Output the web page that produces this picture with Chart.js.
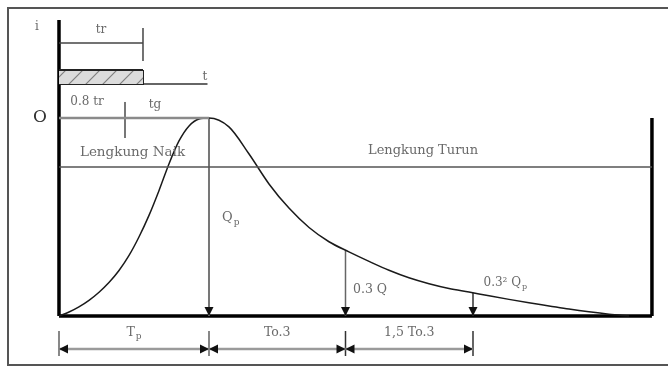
<!DOCTYPE html>
<html>
<head>
<meta charset="utf-8">
<script src="https://cdn.jsdelivr.net/npm/chart.js@4.4.1/dist/chart.umd.min.js"></script>
<style>
  html, body { margin: 0; padding: 0; background: #fff; }
  #wrap { width: 668px; height: 367px; position: relative; }
</style>
</head>
<body>
<div id="wrap"><canvas id="chart"></canvas></div>
<script>
// Unit hydrograph, t in units of Tp, Q in units of Qp
const hydroT = [0, 0.067, 0.133, 0.2, 0.267, 0.333, 0.4, 0.467, 0.533, 0.6, 0.667, 0.733, 0.8, 0.867, 0.933, 1.0,
  1.133, 1.267, 1.4, 1.533, 1.667, 1.8, 1.933, 2.067, 2.2, 2.333, 2.467, 2.6, 2.733, 2.867,
  3.0, 3.133, 3.267, 3.4, 3.533, 3.667, 3.8];
const hydroQ = [0, 0.020, 0.046, 0.079, 0.120, 0.169, 0.230, 0.306, 0.399, 0.508, 0.634, 0.768, 0.884, 0.960, 0.995, 1.0,
  0.955, 0.818, 0.667, 0.545, 0.447, 0.375, 0.324, 0.276, 0.231, 0.193, 0.163, 0.139, 0.121, 0.102,
  0.084, 0.067, 0.051, 0.035, 0.021, 0.009, 0];

// 0, Tp, Tp + To.3, Tp + To.3 + 1.5 To.3
const markT = [0, 1.0, 1.91, 2.76];
const markQ = [1.0, 0.332, 0.118];
const spanLabels = ["T", "To.3", "1,5 To.3"];

// rainfall block and guide lines
const trEnd = 0.56;
const rainTop = 1.242;
const rainBase = 1.172;
const rainAxisEnd = 0.99;
const trLineQ = 1.379;
const lagTickT = 0.44;
const riseFallQ = 0.753;
const tEnd = 3.953;
const qTop = 1.495;
const spanQ = -0.167;

// ── helpers ─────────────────────────────────────────

function pts(ts, qs) {
  return ts.map((t, i) => ({ x: t, y: qs[i] }));
}

function seg(t0, q0, t1, q1, color, width, arrows) {
  return {
    data: [{ x: t0, y: q0 }, { x: t1, y: q1 }],
    borderColor: color,
    borderWidth: width,
    pointRadius: 0,
    fill: false,
    arrows: arrows || [],
  };
}

function hatch() {
  const s = 17;
  const c = document.createElement("canvas");
  c.width = s; c.height = s;
  const g = c.getContext("2d");
  g.fillStyle = "#dcdcdc";
  g.fillRect(0, 0, s, s);
  g.strokeStyle = "#808080";
  g.lineWidth = 1.2;
  g.beginPath();
  g.moveTo(0, s); g.lineTo(s, 0);
  g.moveTo(-2, 2); g.lineTo(2, -2);
  g.moveTo(s - 2, s + 2); g.lineTo(s + 2, s - 2);
  g.stroke();
  return g.createPattern(c, "repeat");
}

const labels = [
  { text: "i", t: -0.147, q: 1.46, size: 12 },
  { text: "tr", t: trEnd / 2, q: 1.444, size: 12 },
  { text: "t", t: 0.973, q: 1.207, size: 12 },
  { text: "0.8 tr", t: 0.187, q: 1.081, size: 12 },
  { text: "tg", t: 0.64, q: 1.066, size: 12 },
  { text: "O", t: -0.127, q: 1.0, size: 17, color: "#333" },
  { text: "Lengkung Naik", t: 0.49, q: 0.828, size: 13.5 },
  { text: "Lengkung Turun", t: 2.427, q: 0.833, size: 13 },
  { text: "Q", sub: "p", t: markT[1] + 0.087, q: 0.495, size: 13, align: "left" },
  { text: "0.3 Q", t: markT[2] + 0.05, q: 0.131, size: 12.5, align: "left" },
  { text: "0.3² Q", sub: "p", t: markT[3] + 0.07, q: 0.167, size: 12, align: "left" },
];
spanLabels.forEach((s, i) => {
  labels.push({
    text: s,
    sub: i === 0 ? "p" : null,
    t: (markT[i] + markT[i + 1]) / 2,
    q: -0.084,
    size: 12.5,
  });
});

// ── datasets ─────────────────────────────────────────

const datasets = [
  // rainfall bar (hatched)
  {
    data: [{ x: 0, y: rainTop }, { x: trEnd, y: rainTop }],
    borderColor: "#222",
    borderWidth: 2,
    pointRadius: 0,
    fill: { value: rainBase },
    backgroundColor: hatch(),
  },
  {
    data: [{ x: 0, y: rainBase }, { x: trEnd, y: rainBase }, { x: trEnd, y: rainTop }],
    borderColor: "#222", borderWidth: 2, pointRadius: 0, fill: false,
  },
  seg(trEnd, rainBase, rainAxisEnd, rainBase, "#666", 2),
  seg(0, trLineQ, trEnd, trLineQ, "#444", 1.5),
  seg(trEnd, 1.288, trEnd, 1.455, "#444", 1.5),
  // peak level and lag tick
  seg(0, 1.0, markT[1], 1.0, "#8a8a8a", 2.5),
  seg(lagTickT, 0.899, lagTickT, 1.081, "#777", 2),
  // rising / falling limb divider
  seg(0, riseFallQ, tEnd, riseFallQ, "#555", 1.5),
  // hydrograph
  {
    data: pts(hydroT, hydroQ),
    borderColor: "#1a1a1a",
    borderWidth: 1.5,
    pointRadius: 0,
    fill: false,
    cubicInterpolationMode: "monotone",
  },
  // ordinate arrows
  seg(markT[1], markQ[0], markT[1], 0, "#777", 2, ["end"]),
  seg(markT[2], markQ[1], markT[2], 0, "#666", 1.5, ["end"]),
  seg(markT[3], markQ[2], markT[3], 0, "#333", 1.5, ["end"]),
  // axes
  seg(0, 0, 0, qTop, "#000", 3.5),
  seg(0, 0, tEnd, 0, "#000", 3.5),
  seg(tEnd, 0, tEnd, 1.0, "#000", 3.5),
];

// dimension lines
for (let i = 0; i < 3; i++) {
  datasets.push(seg(markT[i], spanQ, markT[i + 1], spanQ, "#9a9a9a", 2.5, ["start", "end"]));
}
markT.forEach((t, i) => {
  datasets.push(seg(t, -0.076, t, -0.202, i < 2 ? "#888" : "#333", i < 2 ? 2 : 1.5));
});

// ── plugins ─────────────────────────────────────────

const framePlugin = {
  id: "frame",
  beforeDraw(chart) {
    const ctx = chart.ctx;
    ctx.save();
    ctx.fillStyle = "#fff";
    ctx.fillRect(0, 0, chart.width, chart.height);
    ctx.strokeStyle = "#555";
    ctx.lineWidth = 2;
    ctx.strokeRect(8, 8, 700, 357);
    ctx.restore();
  },
};

const arrowPlugin = {
  id: "arrows",
  afterDatasetsDraw(chart) {
    const ctx = chart.ctx;
    ctx.save();
    ctx.fillStyle = "#111";
    chart.data.datasets.forEach((ds, i) => {
      if (!ds.arrows || !ds.arrows.length) return;
      const p = chart.getDatasetMeta(i).data;
      ds.arrows.forEach((end) => {
        const tip = end === "end" ? p[p.length - 1] : p[0];
        const from = end === "end" ? p[p.length - 2] : p[1];
        let dx = tip.x - from.x, dy = tip.y - from.y;
        const len = Math.hypot(dx, dy) || 1;
        dx /= len; dy /= len;
        const L = 9, W = 4.5;
        const bx = tip.x - dx * L, by = tip.y - dy * L;
        ctx.beginPath();
        ctx.moveTo(tip.x, tip.y);
        ctx.lineTo(bx - dy * W, by + dx * W);
        ctx.lineTo(bx + dy * W, by - dx * W);
        ctx.closePath();
        ctx.fill();
      });
    });
    ctx.restore();
  },
};

const labelPlugin = {
  id: "labels",
  afterDraw(chart) {
    const ctx = chart.ctx;
    const xs = chart.scales.x, ys = chart.scales.y;
    ctx.save();
    ctx.textBaseline = "middle";
    labels.forEach((l) => {
      const x = xs.getPixelForValue(l.t);
      const y = ys.getPixelForValue(l.q);
      ctx.font = `${l.size}px "DejaVu Serif"`;
      const w = ctx.measureText(l.text).width;
      const subSize = Math.round(l.size * 0.7);
      let sw = 0;
      if (l.sub) {
        ctx.font = `${subSize}px "DejaVu Serif"`;
        sw = ctx.measureText(l.sub).width + 1;
      }
      const total = w + sw;
      const x0 = l.align === "left" ? x : x - total / 2;
      ctx.fillStyle = l.color || "#6a6a6a";
      ctx.textAlign = "left";
      ctx.font = `${l.size}px "DejaVu Serif"`;
      ctx.fillText(l.text, x0, y);
      if (l.sub) {
        ctx.font = `${subSize}px "DejaVu Serif"`;
        ctx.fillText(l.sub, x0 + w + 1, y + l.size * 0.35);
      }
    });
    ctx.restore();
  },
};

new Chart(document.getElementById("chart"), {
  type: "line",
  data: { datasets },
  options: {
    responsive: true,
    maintainAspectRatio: false,
    animation: false,
    layout: { padding: 0 },
    plugins: { legend: { display: false }, tooltip: { enabled: false } },
    scales: {
      x: { type: "linear", min: -0.3933, max: 4.06, display: false },
      y: { type: "linear", min: -0.2576, max: 1.596, display: false },
    },
  },
  plugins: [framePlugin, arrowPlugin, labelPlugin],
});
</script>
</body>
</html>
